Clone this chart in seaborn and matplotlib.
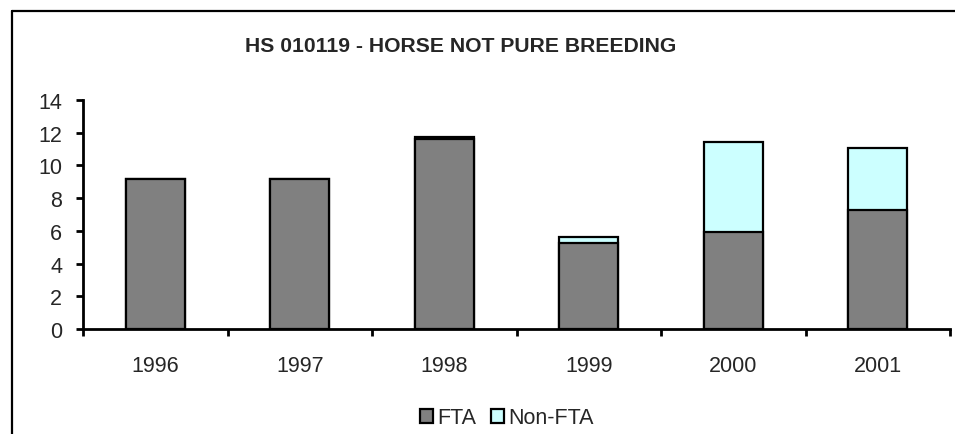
import pandas as pd
import matplotlib.pyplot as plt
import seaborn as sns
from matplotlib.patches import Patch
from matplotlib.lines import Line2D

# Chart values
years = ["1996", "1997", "1998", "1999", "2000", "2001"]
fta = [9.15, 9.15, 11.6, 5.25, 5.95, 7.25]
non_fta = [0.0, 0.0, 0.12, 0.4, 5.5, 3.8]

df = pd.DataFrame({"Year": years, "FTA": fta, "Non-FTA": non_fta})
df["Total"] = df["FTA"] + df["Non-FTA"]

sns.set_style("white")
plt.rcParams["font.family"] = ["Liberation Sans", "DejaVu Sans"]

fig = plt.figure(figsize=(9.55, 4.35), dpi=100)
ax = fig.add_axes([83 / 955, 1 - 330 / 435, (950 - 83) / 955, (330 - 101) / 435])

# stacked bars: total first (non-FTA colour), FTA drawn over it
sns.barplot(data=df, x="Year", y="Total", color="#CCFFFF", saturation=1,
            width=0.41, edgecolor="black", linewidth=1.6, ax=ax)
sns.barplot(data=df, x="Year", y="FTA", color="#808080", saturation=1,
            width=0.41, edgecolor="black", linewidth=1.6, ax=ax)

ax.set_ylim(0, 14)
ax.set_xlim(-0.5, 5.5)
ax.set_yticks(range(0, 15, 2))
ax.set_xlabel("")
ax.set_ylabel("")

for side in ["top", "right"]:
    ax.spines[side].set_visible(False)
for side in ["left", "bottom"]:
    ax.spines[side].set_color("black")
    ax.spines[side].set_linewidth(2)

ax.tick_params(axis="y", which="major", direction="out", length=5, width=2,
               color="black", labelsize=15.5, pad=10, left=True)
ax.tick_params(axis="x", which="major", length=0, labelsize=15.5, pad=19)
ax.set_xticks([i - 0.5 for i in range(7)], minor=True)
ax.tick_params(axis="x", which="minor", direction="out", length=5, width=2,
               color="black", bottom=True)

fig.text(461 / 955, 1 - 46 / 435, "HS 010119 - HORSE NOT PURE BREEDING",
         ha="center", va="center", fontsize=15.2, fontweight="bold")

# outer chart frame (only top and left edges visible in the crop)
fig.add_artist(Line2D([12 / 955, 12 / 955], [0, 1 - 12 / 435], color="black",
                      linewidth=1.6, transform=fig.transFigure))
fig.add_artist(Line2D([12 / 955, 1], [1 - 12 / 435, 1 - 12 / 435], color="black",
                      linewidth=1.6, transform=fig.transFigure))

handles = [Patch(facecolor="#808080", edgecolor="black", linewidth=1.6, label="FTA"),
           Patch(facecolor="#CCFFFF", edgecolor="black", linewidth=1.6, label="Non-FTA")]
fig.legend(handles=handles, loc="center", bbox_to_anchor=(507 / 955, 1 - 419 / 435),
           ncol=2, frameon=False, fontsize=15.5, handlelength=0.6, handleheight=0.6,
           handletextpad=0.2, columnspacing=0.7, borderpad=0)

fig.savefig("out.png", dpi=100)
